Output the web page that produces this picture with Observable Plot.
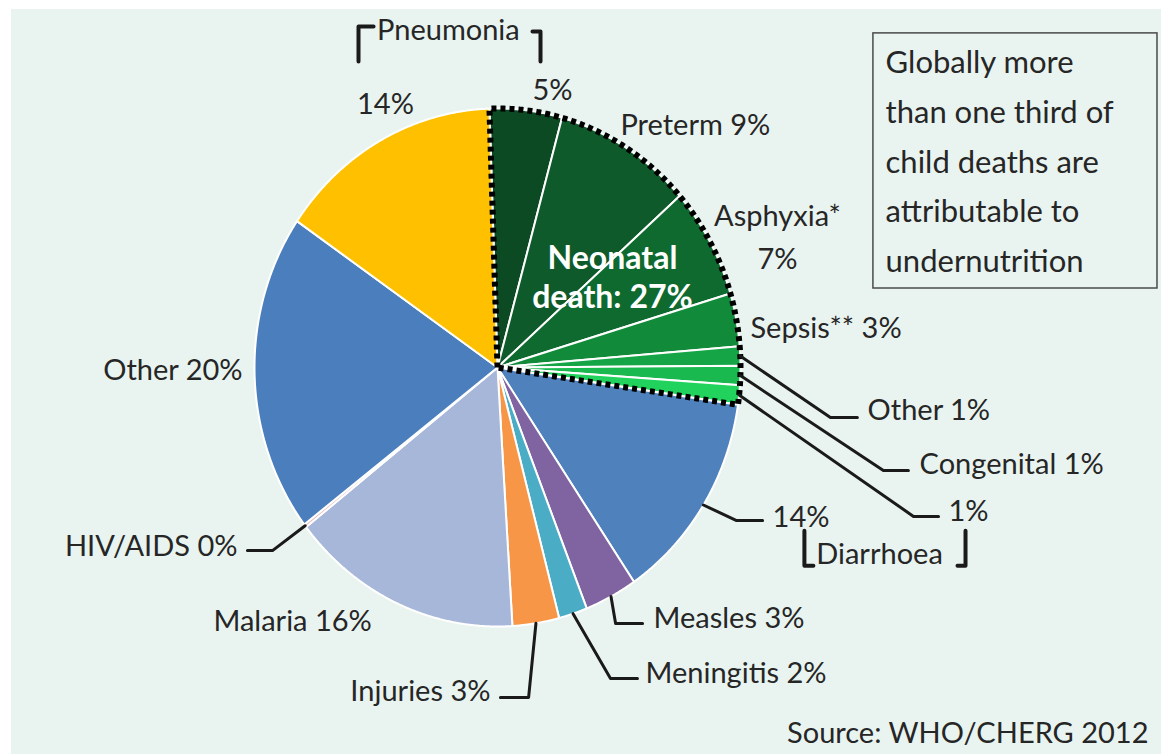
<!DOCTYPE html>
<html><head><meta charset="utf-8">
<script src="https://cdn.jsdelivr.net/npm/d3@7"></script>
<script src="https://cdn.jsdelivr.net/npm/@observablehq/plot@0.6"></script>
<style>
body{margin:0;background:#ffffff;}
#chart{position:absolute;left:11px;top:9px;}
</style></head><body><div id="chart"></div>
<script>
// ---- data ----
const causes = ["Pneumonia (neonatal)", "Preterm", "Asphyxia", "Sepsis", "Other (neonatal)", "Congenital", "Diarrhoea (neonatal)",
                "Diarrhoea", "Measles", "Meningitis", "Injuries", "Malaria", "HIV/AIDS", "Other", "Pneumonia"];
const shares = [4.8, 9.2, 6.9, 3.3, 1.2, 1.2, 1.2, 13.2, 3.5, 1.9, 3.1, 15.4, 0.2, 19.9, 14.9];
const isNeonatal = [true, true, true, true, true, true, true, false, false, false, false, false, false, false, false];
const sliceColors = ["#0b4a22", "#0f5a2a", "#0f6a2f", "#118a39", "#15a446", "#19b94f", "#21d35c",
                     "#4f81bd", "#8064a2", "#4bacc6", "#f79646", "#a7b7d9", "#e6b9b8", "#4a7ebc", "#ffc000"];
const labelTexts = ["5%", "Preterm 9%", "Asphyxia*\n7%", "Sepsis** 3%", "Other 1%", "Congenital 1%", "1%",
                    "14%", "Measles 3%", "Meningitis 2%", "Injuries 3%", "Malaria 16%", "HIV/AIDS 0%", "Other 20%", "14%"];
const neonatalLabel = "Neonatal\ndeath: 27%";
const boxText = "Globally more\nthan one third of\nchild deaths are\nattributable to\nundernutrition";
const sourceText = "Source: WHO/CHERG 2012";
const groupLabels = ["Pneumonia", "Diarrhoea"];

// ---- layout (in pie-radius units) ----
const startDeg = -1.9;
// label anchor positions: [x, y, anchor]
const labelPos = [
  [0.226, 1.085, "middle"], [0.506, 0.952, "start"], [1.152, 0.518, "middle"], [1.041, 0.168, "start"],
  [1.523, -0.148, "start"], [1.737, -0.357, "start"], [1.856, -0.538, "start"],
  [1.132, -0.562, "start"], [0.642, -0.952, "start"], [0.609, -1.164, "start"], [-0.029, -1.233, "end"],
  [-1.169, -0.963, "start"], [-1.070, -0.674, "end"], [-1.049, 0.006, "end"], [-0.461, 1.033, "middle"]
];
// leader lines: slice index -> [elbow, end]
const leaders = [
  [4, [1.370, -0.193], [1.481, -0.193]],
  [5, [1.588, -0.398], [1.691, -0.398]],
  [6, [1.712, -0.575], [1.815, -0.575]],
  [7, [0.984, -0.591], [1.091, -0.591]],
  [8, [0.486, -0.988], [0.597, -0.988]],
  [9, [0.465, -1.201], [0.576, -1.201]],
  [10, [0.128, -1.274], [0.012, -1.274]],
  [12, [-0.926, -0.707], [-1.029, -0.707]]
];
const groupLabelPos = [[-0.202, 1.301], [1.572, -0.724]];
const brackets = [
  [[-0.510, 1.317], [-0.572, 1.317], [-0.572, 1.181]],
  [[0.144, 1.297], [0.177, 1.297], [0.177, 1.181]],
  [[1.263, -0.630], [1.263, -0.765], [1.300, -0.765]],
  [[1.893, -0.765], [1.926, -0.765], [1.926, -0.630]]
];

// ---- build geometry ----
const rad = d => d * Math.PI / 180;
const pt = (deg, r = 1) => [r * Math.sin(rad(deg)), r * Math.cos(rad(deg))];
const total = d3.sum(shares);
let acc = 0;
const slices = causes.map((c, i) => {
  const a0 = startDeg + acc / total * 360;
  acc += shares[i];
  const a1 = startDeg + acc / total * 360;
  return {c, i, a0, a1, mid: (a0 + a1) / 2, color: sliceColors[i]};
});
function arcPts(a0, a1) {
  const out = [];
  for (let a = a0; a < a1; a += 0.25) out.push(pt(a));
  out.push(pt(a1));
  return out;
}
const polys = slices.flatMap(s => [[0, 0], ...arcPts(s.a0, s.a1)].map(([x, y]) => ({c: s.c, x, y, color: s.color})));
const neoSlices = slices.filter((s, i) => isNeonatal[i]);
const neoOutline = [[0, 0], ...arcPts(neoSlices[0].a0, neoSlices[neoSlices.length - 1].a1)].map(([x, y]) => ({x, y}));

const labels = slices.map((s, i) => ({text: labelTexts[i], x: labelPos[i][0], y: labelPos[i][1], anchor: labelPos[i][2]}));
const leaderPts = leaders.flatMap(([i, e, f]) => {
  const p = pt(slices[i].mid);
  return [p, e, f].map(([x, y]) => ({k: i, x, y}));
});
const bracketPts = brackets.flatMap((b, k) => b.map(([x, y]) => ({k, x, y})));

const textColor = "#262626";
const fs = 29;

const chart = Plot.plot({
  width: 1150, height: 745,
  margin: 0,
  x: {domain: [-1, 1], range: [243, 729], axis: null},
  y: {domain: [-1, 1], range: [617, 99], axis: null},
  color: {type: "identity"},
  style: {background: "#e9f4f0", fontFamily: "Lato, 'Open Sans', sans-serif", color: textColor},
  marks: [
    Plot.line(polys, {x: "x", y: "y", z: "c", fill: "color", stroke: "#ffffff", strokeWidth: 2, curve: "linear-closed"}),
    Plot.line(neoOutline, {x: "x", y: "y", stroke: "#000", strokeWidth: 6, strokeDasharray: "5,4", strokeLinecap: "butt", strokeLinejoin: "miter", curve: "linear-closed", fill: "none"}),
    Plot.line(leaderPts, {x: "x", y: "y", z: "k", stroke: "#1a1a1a", strokeWidth: 3}),
    Plot.line(bracketPts, {x: "x", y: "y", z: "k", stroke: "#1a1a1a", strokeWidth: 4}),
    ...["start", "middle", "end"].map(a =>
      Plot.text(labels.filter(d => d.anchor === a), {x: "x", y: "y", text: "text", textAnchor: a, fontSize: fs, fill: textColor, lineHeight: 1.48})),
    Plot.text(groupLabels.map((t, i) => ({t, x: groupLabelPos[i][0], y: groupLabelPos[i][1]})), {x: "x", y: "y", text: "t", fontSize: fs, fill: textColor}),
    Plot.text([neonatalLabel], {x: () => 0.473, y: () => 0.352, text: d => d, fontSize: 32, fontWeight: "bold", fill: "#ffffff", lineHeight: 1.22}),
    Plot.rect([{x1: 1.547, x2: 2.716, y1: 1.290, y2: 0.305}], {x1: "x1", x2: "x2", y1: "y1", y2: "y2", fill: "none", stroke: "#4a4a4a", strokeWidth: 1.5}),
    Plot.text([boxText], {x: () => 1.597, y: () => 0.814, text: d => d, textAnchor: "start", fontSize: 31, fill: textColor, lineHeight: 1.6}),
    Plot.text([sourceText], {x: () => 2.679, y: () => -1.413, text: d => d, textAnchor: "end", fontSize: fs, fill: textColor})
  ]
});
document.getElementById("chart").appendChild(chart);
</script></body></html>
